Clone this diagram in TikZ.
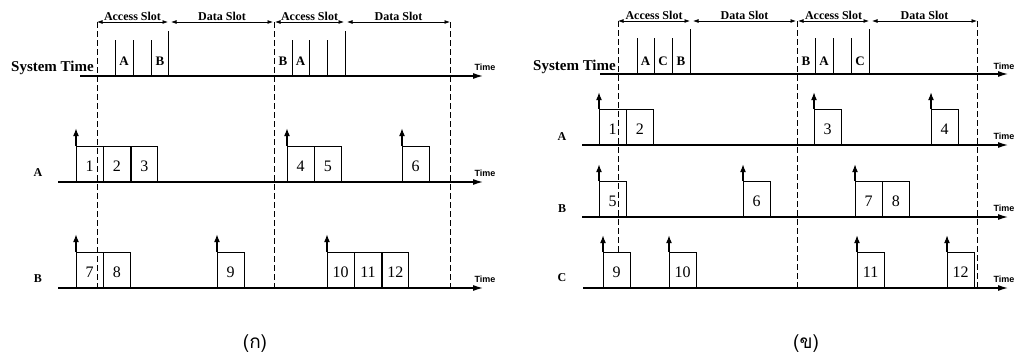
\documentclass[tikz,border=0pt]{standalone}
\usepackage{fontspec}
\setmainfont{Liberation Serif}
\newfontfamily\timefont{Liberation Sans}
\newfontfamily\thaifont[Script=Thai]{Loma}
\usetikzlibrary{arrows.meta,positioning}

\tikzset{
  axis/.style={line width=1.2pt, -{Latex[length=10pt,width=6pt]}},
  slot/.style={line width=0.8pt, {Latex[length=5.5pt,width=4pt]}-{Latex[length=5.5pt,width=4pt]}},
  bound/.style={line width=0.9pt, dash pattern=on 6pt off 3pt},
  tick/.style={line width=0.9pt},
  req/.style={line width=1.2pt, -{Latex[length=8pt,width=6pt]}},
  pkt/.style={draw, line width=0.8pt, minimum width=26.5pt, minimum height=35pt,
    inner sep=0pt, text height=15pt, text depth=0pt, font=\fontsize{16}{16}\selectfont},
  slotlab/.style={above, inner sep=1pt, font=\fontsize{12}{12}\selectfont\bfseries},
  syslab/.style={anchor=base east, inner sep=0pt, font=\fontsize{15}{15}\selectfont\bfseries},
  minilab/.style={anchor=base, inner sep=0pt, font=\fontsize{13}{13}\selectfont\bfseries},
  rowlab/.style={inner sep=0pt, font=\fontsize{12}{12}\selectfont\bfseries},
  timelab/.style={inner sep=0pt, font=\fontsize{9}{9}\selectfont\timefont\bfseries},
  caplab/.style={inner sep=0pt, font=\fontsize{19}{19}\selectfont\thaifont},
}

\begin{document}
\begin{tikzpicture}[x=1pt, y=-1pt]
  \useasboundingbox (0,0) rectangle (1017,356);

  %%%%%%%% (ก) %%%%%%%%
  % 時間軸
  \coordinate (sa0) at (80,76);  \coordinate (sa1) at (483,76);
  \coordinate (aa0) at (58,182); \coordinate (aa1) at (483,182);
  \coordinate (ba0) at (58,288); \coordinate (ba1) at (483,288);
  \draw[axis] (sa0) -- (sa1);
  \draw[axis] (aa0) -- (aa1);
  \draw[axis] (ba0) -- (ba1);
  \node[syslab] (sysa) at (94,71) {System Time};
  \node[rowlab] (rowaa) at (38,173) {A};
  \node[rowlab] (rowab) at (38,279) {B};
  \node[timelab] (tsa) at (485,67) {Time};
  \node[timelab] (taa) at (485,173) {Time};
  \node[timelab] (tba) at (485,279) {Time};

  % スロット
  \coordinate (ka0) at (97,22);  \coordinate (ka1) at (168,22);
  \coordinate (ka2) at (171,22); \coordinate (ka3) at (273,22);
  \coordinate (ka4) at (275,22); \coordinate (ka5) at (344,22);
  \coordinate (ka6) at (347,22); \coordinate (ka7) at (450,22);
  \draw[slot] (ka0) -- node[slotlab] (asa1) {Access Slot} (ka1);
  \draw[slot] (ka2) -- node[slotlab] (dsa1) {Data Slot} (ka3);
  \draw[slot] (ka4) -- node[slotlab] (asa2) {Access Slot} (ka5);
  \draw[slot] (ka6) -- node[slotlab] (dsa2) {Data Slot} (ka7);

  % ミニスロット
  \foreach \x in {115,133,151,292,309,327} \draw[tick] (\x,40) -- (\x,76);
  \foreach \x in {168,345} \draw[tick] (\x,31) -- (\x,76);
  \node[minilab] (ma1) at (124,65) {A};
  \node[minilab] (mb1) at (160,65) {B};
  \node[minilab] (mb2) at (283,65) {B};
  \node[minilab] (ma2) at (300.5,65) {A};

  % パケット A
  \node[pkt, anchor=south west] (pa1) at (76,182) {1};
  \node[pkt, right=0pt of pa1] (pa2) {2};
  \node[pkt, right=0pt of pa2] (pa3) {3};
  \node[pkt, anchor=south west] (pa4) at (287,182) {4};
  \node[pkt, right=0pt of pa4] (pa5) {5};
  \node[pkt, anchor=south west] (pa6) at (402,182) {6};
  % パケット B
  \node[pkt, anchor=south west] (pa7) at (76,288) {7};
  \node[pkt, right=0pt of pa7] (pa8) {8};
  \node[pkt, anchor=south west] (pa9) at (217,288) {9};
  \node[pkt, anchor=south west] (pa10) at (327,288) {10};
  \node[pkt, right=0pt of pa10] (pa11) {11};
  \node[pkt, right=0pt of pa11] (pa12) {12};
  % 要求矢印
  \foreach \p in {pa1,pa4,pa6,pa7,pa9,pa10}
    \draw[req] (\p.north west) -- ++(0,-18);

  % 境界
  \draw[bound] (ka0) -- (97,290);
  \draw[bound] (ka3) ++(1,0) -- (274,290);
  \draw[bound] (ka7) -- (450,290);

  \node[caplab] (capa) at (255,344) {(ก)};

  %%%%%%%% (ข) %%%%%%%%
  % 時間軸
  \coordinate (sb0) at (600,74);  \coordinate (sb1) at (1008,74);
  \coordinate (ab0) at (582,145); \coordinate (ab1) at (1008,145);
  \coordinate (bb0) at (582,217); \coordinate (bb1) at (1008,217);
  \coordinate (cb0) at (583,288); \coordinate (cb1) at (1008,288);
  \draw[axis] (sb0) -- (sb1);
  \draw[axis] (ab0) -- (ab1);
  \draw[axis] (bb0) -- (bb1);
  \draw[axis] (cb0) -- (cb1);
  \node[syslab] (sysb) at (616,70) {System Time};
  \node[rowlab] (rowba) at (562,137) {A};
  \node[rowlab] (rowbb) at (562,209) {B};
  \node[rowlab] (rowbc) at (562,278) {C};
  \node[timelab] (tsb) at (1004,66) {Time};
  \node[timelab] (tab) at (1004,136) {Time};
  \node[timelab] (tbb) at (1004,208) {Time};
  \node[timelab] (tcb) at (1004,279) {Time};

  % スロット
  \coordinate (kb0) at (618,21); \coordinate (kb1) at (690,21);
  \coordinate (kb2) at (693,21); \coordinate (kb3) at (796,21);
  \coordinate (kb4) at (798,21); \coordinate (kb5) at (869,21);
  \coordinate (kb6) at (872,21); \coordinate (kb7) at (977,21);
  \draw[slot] (kb0) -- node[slotlab] (asb1) {Access Slot} (kb1);
  \draw[slot] (kb2) -- node[slotlab] (dsb1) {Data Slot} (kb3);
  \draw[slot] (kb4) -- node[slotlab] (asb2) {Access Slot} (kb5);
  \draw[slot] (kb6) -- node[slotlab] (dsb2) {Data Slot} (kb7);

  % ミニスロット
  \foreach \x in {637,654,672,815,833,851} \draw[tick] (\x,38) -- (\x,74);
  \foreach \x in {690,869} \draw[tick] (\x,29) -- (\x,74);
  \node[minilab] (mba1) at (645.5,65) {A};
  \node[minilab] (mbc1) at (663,65) {C};
  \node[minilab] (mbb1) at (681,65) {B};
  \node[minilab] (mbb2) at (806,65) {B};
  \node[minilab] (mba2) at (824,65) {A};
  \node[minilab] (mbc2) at (860,65) {C};

  % パケット A
  \node[pkt, anchor=south west] (qb1) at (599,145) {1};
  \node[pkt, right=0pt of qb1] (qb2) {2};
  \node[pkt, anchor=south west] (qb3) at (814,145) {3};
  \node[pkt, anchor=south west] (qb4) at (931,145) {4};
  % パケット B
  \node[pkt, anchor=south west] (qb5) at (599,217) {5};
  \node[pkt, anchor=south west] (qb6) at (743,217) {6};
  \node[pkt, anchor=south west] (qb7) at (855,217) {7};
  \node[pkt, right=0pt of qb7] (qb8) {8};
  % パケット C
  \node[pkt, anchor=south west] (qb9) at (603,288) {9};
  \node[pkt, anchor=south west] (qb10) at (669,288) {10};
  \node[pkt, anchor=south west] (qb11) at (857,288) {11};
  \node[pkt, anchor=south west] (qb12) at (947,288) {12};
  % 要求矢印
  \foreach \p in {qb1,qb3,qb4,qb5,qb6,qb7,qb9,qb10,qb11,qb12}
    \draw[req] (\p.north west) -- ++(0,-17);

  % 境界
  \draw[bound] (kb0) -- (qb9.north -| kb0);
  \draw[bound] (kb3) ++(1,0) -- (797,290);
  \draw[bound] (kb7) -- (977,290);

  \node[caplab] (capb) at (806,344) {(ข)};
\end{tikzpicture}
\end{document}
